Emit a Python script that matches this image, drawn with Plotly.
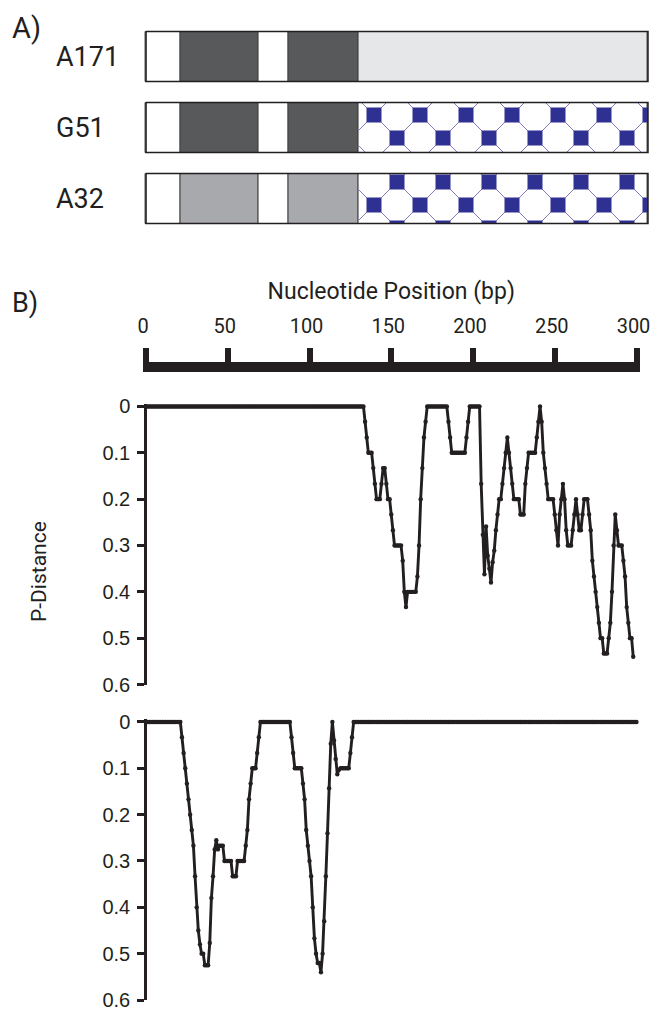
import plotly.graph_objects as go

# ---------------- data ----------------
strains = ["A171", "G51", "A32"]
segment_edges = [0, 21, 69, 87, 130, 307]          # bp boundaries of the gene blocks
segment_colors = {
    "A171": ["#ffffff", "#58595b", "#ffffff", "#58595b", "#e6e7e8"],
    "G51":  ["#ffffff", "#58595b", "#ffffff", "#58595b", "#ffffff"],
    "A32":  ["#ffffff", "#a7a9ac", "#ffffff", "#a7a9ac", "#ffffff"],
}
pattern_phase = {"G51": 12.5, "A32": 31.5}          # patterned tail blocks (octagon tiling)

ruler_ticks = [0, 50, 100, 150, 200, 250, 300]
ruler_labels = ["0", "50", "100", "150", "200", "250", "300"]
pdist_ticks = [0, 0.1, 0.2, 0.3, 0.4, 0.5, 0.6]
pdist_labels = ["0", "0.1", "0.2", "0.3", "0.4", "0.5", "0.6"]

# p-distance, top comparison (one value per bp position 0..298)
top_pdist = [
    0, 0, 0, 0, 0, 0, 0, 0, 0, 0, 0, 0, 0, 0, 0, 0, 0, 0, 0, 0,
    0, 0, 0, 0, 0, 0, 0, 0, 0, 0, 0, 0, 0, 0, 0, 0, 0, 0, 0, 0,
    0, 0, 0, 0, 0, 0, 0, 0, 0, 0, 0, 0, 0, 0, 0, 0, 0, 0, 0, 0,
    0, 0, 0, 0, 0, 0, 0, 0, 0, 0, 0, 0, 0, 0, 0, 0, 0, 0, 0, 0,
    0, 0, 0, 0, 0, 0, 0, 0, 0, 0, 0, 0, 0, 0, 0, 0, 0, 0, 0, 0,
    0, 0, 0, 0, 0, 0, 0, 0, 0, 0, 0, 0, 0, 0, 0, 0, 0, 0, 0, 0,
    0, 0, 0, 0, 0, 0, 0, 0, 0, 0, 0, 0, 0, 0,
    0.033, 0.067, 0.1, 0.1, 0.1, 0.133, 0.167, 0.2, 0.2, 0.2,
    0.167, 0.133, 0.133, 0.167, 0.2, 0.2, 0.233, 0.267, 0.3, 0.3,
    0.3, 0.3, 0.3, 0.333, 0.4, 0.433, 0.4, 0.4, 0.4, 0.4,
    0.4, 0.4, 0.367, 0.3, 0.2, 0.133, 0.067, 0.033, 0, 0,
    0, 0, 0, 0, 0, 0, 0, 0, 0, 0,
    0, 0.033, 0.067, 0.1, 0.1, 0.1, 0.1, 0.1, 0.1, 0.1,
    0.1, 0.1, 0.067, 0.033, 0, 0, 0, 0, 0, 0,
    0, 0.167, 0.277, 0.362, 0.259, 0.322, 0.35, 0.38, 0.336, 0.311,
    0.267, 0.233, 0.2, 0.2, 0.167, 0.133, 0.1, 0.067, 0.1, 0.133,
    0.167, 0.2, 0.2, 0.2, 0.2, 0.233, 0.233, 0.233, 0.167, 0.133,
    0.1, 0.1, 0.1, 0.1, 0.1, 0.067, 0.033, 0, 0.033, 0.1,
    0.133, 0.167, 0.2, 0.2, 0.2, 0.2, 0.233, 0.267, 0.3, 0.233,
    0.2, 0.167, 0.2, 0.267, 0.3, 0.3, 0.3, 0.267, 0.233, 0.2,
    0.233, 0.267, 0.267, 0.233, 0.2, 0.2, 0.2, 0.233, 0.267, 0.333,
    0.367, 0.4, 0.433, 0.467, 0.5, 0.5, 0.533, 0.533, 0.533, 0.5,
    0.467, 0.4, 0.3, 0.233, 0.267, 0.3, 0.3, 0.3, 0.333, 0.367,
    0.433, 0.467, 0.5, 0.5, 0.54,
]

# p-distance, bottom comparison (one value per bp position 0..300)
bottom_pdist = [
    0, 0, 0, 0, 0, 0, 0, 0, 0, 0, 0, 0, 0, 0, 0, 0, 0, 0, 0, 0, 0, 0,
    0.033, 0.067, 0.1, 0.133, 0.167, 0.2, 0.233, 0.267, 0.333, 0.4,
    0.45, 0.48, 0.5, 0.5, 0.525, 0.525, 0.525, 0.477, 0.38, 0.333,
    0.275, 0.255, 0.275, 0.267, 0.267, 0.267, 0.3, 0.3, 0.3, 0.3,
    0.3, 0.333, 0.333, 0.333, 0.3, 0.3, 0.3, 0.3, 0.3, 0.267,
    0.233, 0.167, 0.133, 0.1, 0.1, 0.1, 0.067, 0.033, 0, 0,
    0, 0, 0, 0, 0, 0, 0, 0, 0, 0, 0, 0, 0, 0, 0, 0, 0,
    0.033, 0.067, 0.1, 0.1, 0.1, 0.1, 0.1, 0.133, 0.167, 0.233,
    0.267, 0.3, 0.333, 0.4, 0.467, 0.5, 0.52, 0.52, 0.54, 0.5,
    0.43, 0.333, 0.24, 0.143, 0.047, 0, 0.04, 0.08, 0.113, 0.103,
    0.1, 0.1, 0.1, 0.1, 0.1, 0.1, 0.067, 0.033, 0, 0,
    0, 0, 0, 0, 0, 0, 0, 0, 0, 0, 0, 0, 0, 0, 0, 0, 0, 0, 0, 0,
    0, 0, 0, 0, 0, 0, 0, 0, 0, 0, 0, 0, 0, 0, 0, 0, 0, 0, 0, 0,
    0, 0, 0, 0, 0, 0, 0, 0, 0, 0, 0, 0, 0, 0, 0, 0, 0, 0, 0, 0,
    0, 0, 0, 0, 0, 0, 0, 0, 0, 0, 0, 0, 0, 0, 0, 0, 0, 0, 0, 0,
    0, 0, 0, 0, 0, 0, 0, 0, 0, 0, 0, 0, 0, 0, 0, 0, 0, 0, 0, 0,
    0, 0, 0, 0, 0, 0, 0, 0, 0, 0, 0, 0, 0, 0, 0, 0, 0, 0, 0, 0,
    0, 0, 0, 0, 0, 0, 0, 0, 0, 0, 0, 0, 0, 0, 0, 0, 0, 0, 0, 0,
    0, 0, 0, 0, 0, 0, 0, 0, 0, 0, 0, 0, 0, 0, 0, 0, 0, 0, 0, 0,
    0, 0, 0, 0, 0, 0, 0, 0, 0, 0, 0, 0,
]

top_pos = list(range(len(top_pdist)))
bottom_pos = list(range(len(bottom_pdist)))

# ---------------- layout geometry (page pixels) ----------------
PAGE_OFF = 0                 # body margin removed by the post script below
FW, FH = 653, 1010
X0_PX = 146.0                # page pixel of bp 0
PX_PER_BP = 1.635
INK = "#231f20"
MYRIAD = "Roboto"
ARIAL = "Liberation Sans"


def fx(px):
    return (px - PAGE_OFF) / FW


def fy(py):
    return 1 - (py - PAGE_OFF) / FH


def xdom(r0, r1):
    return [fx(X0_PX + r0 * PX_PER_BP), fx(X0_PX + r1 * PX_PER_BP)]


def ydom(top_px, bottom_px):
    return [fy(bottom_px), fy(top_px)]


ROW_TOP_PX = 21.0
ROW_PITCH_PX = 71.0
BOX_H_PX = 50.0
BAR_W = BOX_H_PX / ROW_PITCH_PX


def row_center_px(r):
    return ROW_TOP_PX + ROW_PITCH_PX * (r + 0.5)


def px_to_bp(px):
    return None if px is None else (px - X0_PX) / PX_PER_BP


def py_to_row(py):
    return None if py is None else (py - ROW_TOP_PX) / ROW_PITCH_PX - 0.5


fig = go.Figure()

# ---- Panel A: block diagrams as stacked horizontal bars ----
rows = list(range(len(strains)))
for k in range(len(segment_edges) - 1):
    fig.add_trace(go.Bar(
        orientation="h", y=rows,
        x=[segment_edges[k + 1] - segment_edges[k]] * len(rows),
        base=[segment_edges[k]] * len(rows),
        width=BAR_W,
        marker=dict(color=[segment_colors[s][k] for s in strains],
                    line=dict(color="#414042", width=1)),
        xaxis="x", yaxis="y", hoverinfo="skip", showlegend=False,
    ))

# octagon-tiling texture of the patterned blocks
PAT_PERIOD = 46.0
PAT_SQUARE = 15.0
PAT_X_PX = 374.0
for r, s in enumerate(strains):
    if s not in pattern_phase:
        continue
    left = X0_PX + segment_edges[4] * PX_PER_BP
    right = X0_PX + segment_edges[5] * PX_PER_BP
    top = row_center_px(r) - BOX_H_PX / 2
    bottom = row_center_px(r) + BOX_H_PX / 2
    ax, ay = PAT_X_PX, top + pattern_phase[s]
    lx, ly = [], []
    for n in range(-40, 41):
        c = (ax - ay) + PAT_PERIOD * n
        xa, xb = max(left, top + c), min(right, bottom + c)
        if xb > xa:
            lx += [xa, xb, None]
            ly += [xa - c, xb - c, None]
        c2 = (ax + ay) + PAT_PERIOD * n
        xa, xb = max(left, c2 - bottom), min(right, c2 - top)
        if xb > xa:
            lx += [xa, xb, None]
            ly += [c2 - xa, c2 - xb, None]
    fig.add_trace(go.Scatter(
        x=[px_to_bp(v) for v in lx], y=[py_to_row(v) for v in ly],
        mode="lines", line=dict(color="#8677c0", width=1),
        xaxis="x", yaxis="y", hoverinfo="skip", showlegend=False))
    sx, sy = [], []
    half = PAT_PERIOD / 2
    for i in range(-20, 40):
        for j in range(-6, 7):
            if (i + j) % 2:
                continue
            cx, cy = ax + half * i, ay + half * j
            x0, x1 = max(left, cx - PAT_SQUARE / 2), min(right, cx + PAT_SQUARE / 2)
            y0, y1 = max(top, cy - PAT_SQUARE / 2), min(bottom, cy + PAT_SQUARE / 2)
            if x1 > x0 and y1 > y0:
                sx += [x0, x1, x1, x0, x0, None]
                sy += [y0, y0, y1, y1, y0, None]
    fig.add_trace(go.Scatter(
        x=[px_to_bp(v) for v in sx], y=[py_to_row(v) for v in sy],
        mode="lines", fill="toself", fillcolor="#2e3192",
        line=dict(width=0, color="#2e3192"),
        xaxis="x", yaxis="y", hoverinfo="skip", showlegend=False))

# outer outline of every block diagram
for r, s in enumerate(strains):
    x0, x1 = segment_edges[0], segment_edges[-1]
    y0, y1 = r - BAR_W / 2, r + BAR_W / 2
    fig.add_trace(go.Scatter(
        x=[x0, x1, x1, x0, x0], y=[y0, y0, y1, y1, y0],
        mode="lines", line=dict(color=INK, width=1.6),
        xaxis="x", yaxis="y", hoverinfo="skip", showlegend=False))

# ruler subplot (axis only)
fig.add_trace(go.Scatter(x=[], y=[], xaxis="x2", yaxis="y2",
                         hoverinfo="skip", showlegend=False))

# ---- Panel B: p-distance profiles ----
for pos, vals, xa, ya in [(top_pos, top_pdist, "x3", "y3"),
                          (bottom_pos, bottom_pdist, "x4", "y4")]:
    fig.add_trace(go.Scatter(
        x=pos, y=vals, mode="lines+markers",
        line=dict(color=INK, width=2.9),
        marker=dict(color=INK, size=4.4),
        cliponaxis=False, xaxis=xa, yaxis=ya, showlegend=False))

plot_yaxis = dict(
    range=[0.6, -0.006], anchor="free", position=fx(145),
    showline=True, linewidth=2.5, linecolor=INK,
    ticks="outside", ticklen=7, tickwidth=2.5, tickcolor=INK,
    tickvals=pdist_ticks, ticktext=pdist_labels,
    tickfont=dict(family=ARIAL, size=20, color=INK),
    ticklabelstandoff=3, ticklabeloverflow="allow",
    showgrid=False, zeroline=False,
)
plot_xaxis = dict(range=[-1.5, 302], domain=xdom(-1.5, 302), visible=False)

annotations = [
    dict(text="A)", x=fx(10), y=fy(27.5), xref="paper", yref="paper",
         xanchor="left", yanchor="middle", showarrow=False,
         font=dict(family=MYRIAD, size=29, color=INK)),
    dict(text="B)", x=fx(10), y=fy(302.5), xref="paper", yref="paper",
         xanchor="left", yanchor="middle", showarrow=False,
         font=dict(family=MYRIAD, size=27, color=INK)),
    dict(text="P-Distance", x=fx(39), y=fy(572), xref="paper", yref="paper",
         xanchor="center", yanchor="middle", textangle=-90, showarrow=False,
         font=dict(family=MYRIAD, size=21, color=INK)),
]
for r, s in enumerate(strains):
    annotations.append(dict(
        text=s, x=fx(54), y=r, xref="paper", yref="y",
        xanchor="left", yanchor="middle", showarrow=False,
        font=dict(family=MYRIAD, size=27, color=INK)))

fig.update_layout(
    template="none",
    width=FW, height=FH,
    margin=dict(l=0, r=0, t=0, b=0),
    paper_bgcolor="white", plot_bgcolor="rgba(0,0,0,0)",
    barmode="overlay", bargap=0, showlegend=False,
    xaxis=dict(range=[-1.5, 309], domain=xdom(-1.5, 309), visible=False),
    yaxis=dict(range=[2.5, -0.5], domain=ydom(ROW_TOP_PX, ROW_TOP_PX + 3 * ROW_PITCH_PX),
               visible=False),
    xaxis2=dict(range=[-2, 302], domain=xdom(-2, 302), anchor="y2", side="top",
                showline=True, linewidth=10, linecolor=INK,
                ticks="outside", ticklen=14, tickwidth=6, tickcolor=INK,
                tickvals=ruler_ticks, ticktext=ruler_labels,
                tickfont=dict(family=MYRIAD, size=20, color=INK),
                ticklabelstandoff=7, ticklabelshift=-3, ticklabeloverflow="allow",
                showgrid=False, zeroline=False,
                title=dict(text="Nucleotide Position (bp)", standoff=12,
                           font=dict(family=MYRIAD, size=23, color=INK))),
    yaxis2=dict(range=[0, 1], domain=ydom(372, 380), anchor="x2", visible=False),
    xaxis3=dict(plot_xaxis, anchor="y3"),
    yaxis3=dict(plot_yaxis, domain=ydom(403.7, 684.5)),
    xaxis4=dict(plot_xaxis, anchor="y4"),
    yaxis4=dict(plot_yaxis, domain=ydom(719.2, 1000)),
    annotations=annotations,
)

fig.write_html("out.html",
               config={"displayModeBar": False},
               post_script="document.body.style.margin='0px';"
                           "document.body.style.overflow='hidden';")
